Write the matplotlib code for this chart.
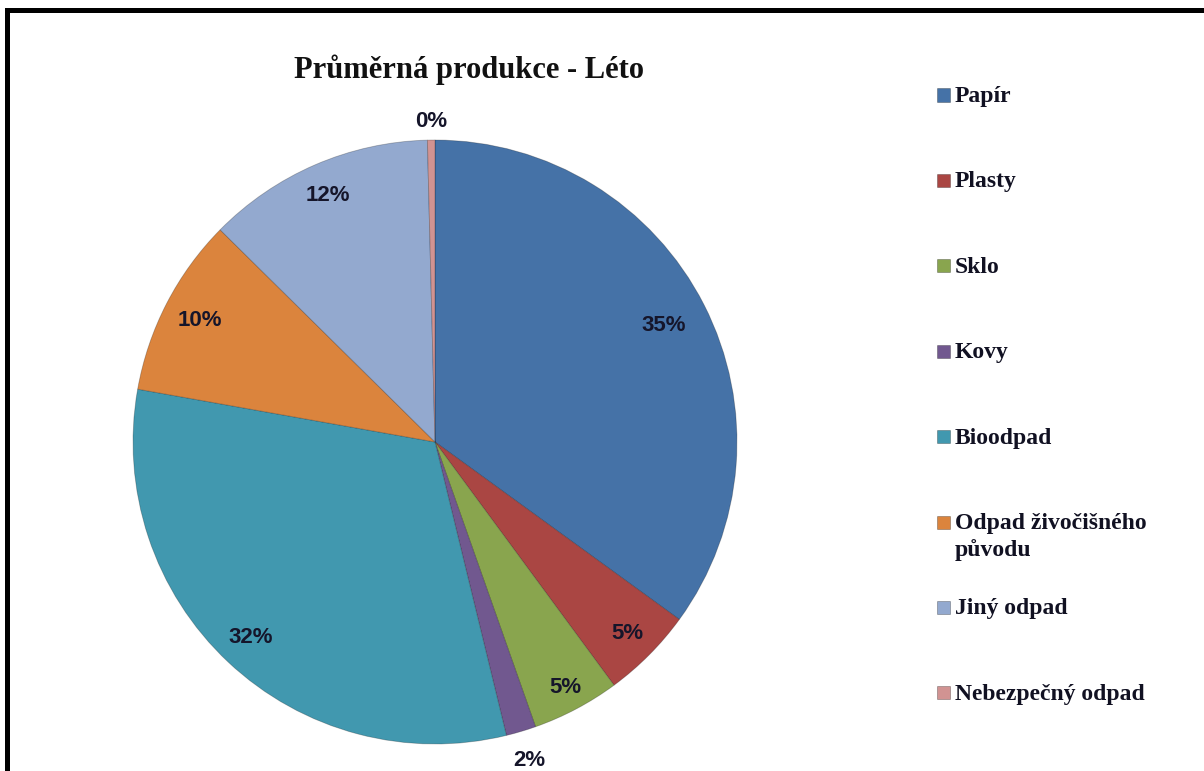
import matplotlib as mpl
mpl.use('Agg')
import matplotlib.pyplot as plt
from matplotlib.patches import Rectangle
import numpy as np

title = "Průměrná produkce - Léto"
categories = ["Papír", "Plasty", "Sklo", "Kovy", "Bioodpad",
              "Odpad živočišného\npůvodu", "Jiný odpad", "Nebezpečný odpad"]
shares = [35.0, 4.9, 4.7, 1.6, 31.6, 9.6, 12.2, 0.4]
colors = ["#4572A7", "#AA4643", "#89A54E", "#71588F",
          "#4198AF", "#DB843D", "#93A9CF", "#D19392"]
# how far from the centre each percentage sits (1.0 = rim)
label_dist = [0.85, 0.90, 0.92, 1.10, 0.89, 0.875, 0.89, 1.06]

W, H = 1204, 771
fig = plt.figure(figsize=(W / 100, H / 100), dpi=100)
fig.patch.set_facecolor("white")

# pie centred at (435, 442) px, radius ~302 px
cx, cy, r = 435, 442, 302
ax = fig.add_axes([(cx - r) / W, (H - cy - r) / H, 2 * r / W, 2 * r / H])
wedges, _ = ax.pie(shares, colors=colors, startangle=90, counterclock=False,
                   radius=1.0, wedgeprops=dict(edgecolor=(0, 0, 0, 0.25), linewidth=0.6))
ax.set_xlim(-1, 1)
ax.set_ylim(-1, 1)
ax.set_aspect("auto")
ax.axis("off")

total = sum(shares)
for w, v, d in zip(wedges, shares, label_dist):
    mid = np.deg2rad((w.theta1 + w.theta2) / 2)
    ax.text(d * np.cos(mid), d * np.sin(mid), "%.0f%%" % (v / total * 100),
            ha="center", va="center", fontsize=16, fontweight="bold",
            family="Liberation Sans", color="#15152a")

fig.text(469 / W, 1 - 70 / H, title, ha="center", va="center",
         fontsize=22, fontweight="bold", family="Liberation Serif", color="#111111")

# legend down the right side
for i, (lab, c) in enumerate(zip(categories, colors)):
    yc = 95 + i * 85.4
    fig.patches.append(Rectangle((937 / W, 1 - (yc + 6.5) / H), 13 / W, 13 / H,
                                 transform=fig.transFigure, facecolor=c,
                                 edgecolor=(0, 0, 0, 0.3), linewidth=0.6))
    fig.text(955 / W, 1 - (yc - 9) / H, lab, ha="left", va="top",
             fontsize=17, fontweight="bold", family="Liberation Serif",
             color="#111122", linespacing=1.3)

# frame lines along top and left edge
fig.patches.append(Rectangle((5 / W, 0), 5 / W, 1 - 8 / H, transform=fig.transFigure,
                             facecolor="black", edgecolor="none"))
fig.patches.append(Rectangle((5 / W, 1 - 13 / H), 1 - 5 / W, 5 / H, transform=fig.transFigure,
                             facecolor="black", edgecolor="none"))

fig.savefig("out.png", dpi=100)
